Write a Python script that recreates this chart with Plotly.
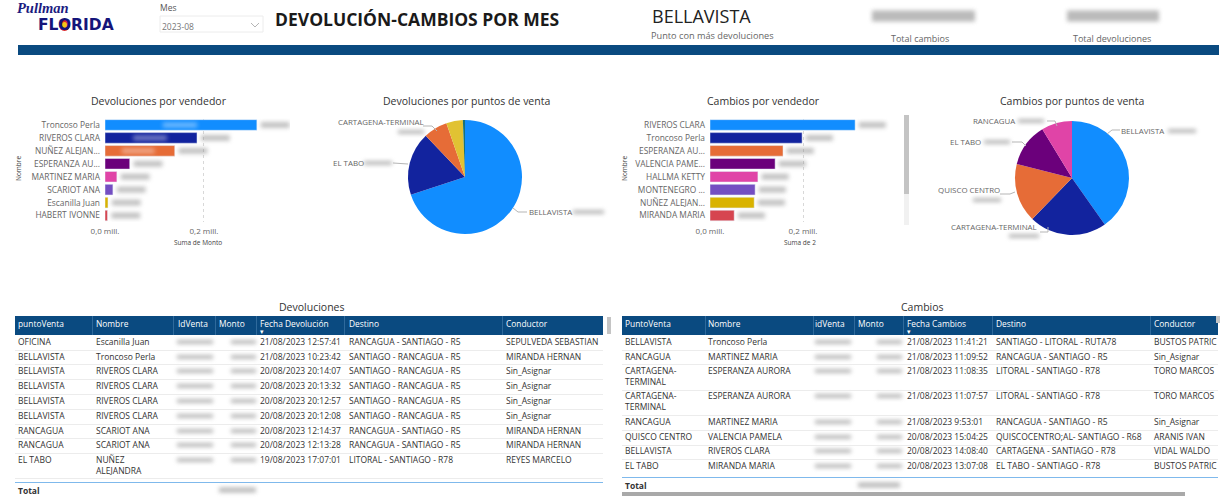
import plotly.graph_objects as go

W = 1231
H = 499
NAVY = '#0A4A80'
GREY = '#666666'
DARK = '#333333'
FONT = 'Open Sans'

bar_colors = ['#118DFF', '#12239E', '#E66C37', '#6B007B', '#E044A7', '#744EC2', '#D9B300', '#D64550']

# bars, millions
dev_names = ['Troncoso Perla', 'RIVEROS CLARA', 'NUÑEZ ALEJAN...', 'ESPERANZA AU...',
             'MARTINEZ MARIA', 'SCARIOT ANA', 'Escanilla Juan', 'HABERT IVONNE']
dev_values = [0.307, 0.186, 0.141, 0.05, 0.024, 0.016, 0.006, 0.005]
cam_names = ['RIVEROS CLARA', 'Troncoso Perla', 'ESPERANZA AU...', 'VALENCIA PAME...',
             'HALLMA KETTY', 'MONTENEGRO ...', 'NUÑEZ ALEJAN...', 'MIRANDA MARIA']
cam_values = [0.312, 0.198, 0.157, 0.14, 0.103, 0.097, 0.095, 0.052]

# pies
dev_pie_names = ['BELLAVISTA', 'EL TABO', 'CARTAGENA-TERMINAL', 'RANCAGUA', 'OFICINA']
dev_pie_values = [70, 18, 6.8, 4.7, 0.6]
dev_pie_colors = ['#118DFF', '#12239E', '#E66C37', '#E1C233', '#197278']
cam_pie_names = ['BELLAVISTA', 'CARTAGENA-TERMINAL', 'QUISCO CENTRO', 'EL TABO', 'RANCAGUA']
cam_pie_values = [40.2, 22, 16.7, 12.3, 8.7]
cam_pie_colors = ['#118DFF', '#12239E', '#E66C37', '#6B007B', '#E044A7']

# table devoluciones
t1_head = ['puntoVenta', 'Nombre', 'IdVenta', 'Monto', 'Fecha Devolución', 'Destino', 'Conductor']
t1_punto = ['OFICINA', 'BELLAVISTA', 'BELLAVISTA', 'BELLAVISTA', 'BELLAVISTA', 'BELLAVISTA',
            'RANCAGUA', 'RANCAGUA', 'EL TABO']
t1_nombre = ['Escanilla Juan', 'Troncoso Perla', 'RIVEROS CLARA', 'RIVEROS CLARA', 'RIVEROS CLARA',
             'RIVEROS CLARA', 'SCARIOT ANA', 'SCARIOT ANA', 'NUÑEZ<br>ALEJANDRA']
t1_fecha = ['21/08/2023 12:57:41', '21/08/2023 10:23:42', '20/08/2023 20:14:07', '20/08/2023 20:13:32',
            '20/08/2023 20:12:57', '20/08/2023 20:12:08', '20/08/2023 12:14:37', '20/08/2023 12:13:28',
            '19/08/2023 17:07:01']
t1_destino = ['RANCAGUA - SANTIAGO - R5', 'SANTIAGO - RANCAGUA - R5', 'SANTIAGO - RANCAGUA - R5',
              'SANTIAGO - RANCAGUA - R5', 'SANTIAGO - RANCAGUA - R5', 'SANTIAGO - RANCAGUA - R5',
              'RANCAGUA - SANTIAGO - R5', 'RANCAGUA - SANTIAGO - R5', 'LITORAL - SANTIAGO - R78']
t1_conductor = ['SEPULVEDA SEBASTIAN', 'MIRANDA HERNAN', 'Sin_Asignar', 'Sin_Asignar', 'Sin_Asignar',
                'Sin_Asignar', 'MIRANDA HERNAN', 'MIRANDA HERNAN', 'REYES MARCELO']

# table cambios
t2_head = ['PuntoVenta', 'Nombre', 'idVenta', 'Monto', 'Fecha Cambios', 'Destino', 'Conductor']
t2_punto = ['BELLAVISTA', 'RANCAGUA', 'CARTAGENA-<br>TERMINAL', 'CARTAGENA-<br>TERMINAL', 'RANCAGUA',
            'QUISCO CENTRO', 'BELLAVISTA', 'EL TABO']
t2_nombre = ['Troncoso Perla', 'MARTINEZ MARIA', 'ESPERANZA AURORA', 'ESPERANZA AURORA', 'MARTINEZ MARIA',
             'VALENCIA PAMELA', 'RIVEROS CLARA', 'MIRANDA MARIA']
t2_fecha = ['21/08/2023 11:41:21', '21/08/2023 11:09:52', '21/08/2023 11:08:35', '21/08/2023 11:07:57',
            '21/08/2023 9:53:01', '20/08/2023 15:04:25', '20/08/2023 14:08:40', '20/08/2023 13:07:08']
t2_destino = ['SANTIAGO - LITORAL - RUTA78', 'RANCAGUA - SANTIAGO - R5', 'LITORAL - SANTIAGO - R78',
              'LITORAL - SANTIAGO - R78', 'RANCAGUA - SANTIAGO - R5', 'QUISCOCENTRO;AL- SANTIAGO - R68',
              'CARTAGENA - SANTIAGO - R78', 'EL TABO - SANTIAGO - R78']
t2_conductor = ['BUSTOS PATRIC', 'Sin_Asignar', 'TORO MARCOS', 'TORO MARCOS', 'Sin_Asignar', 'ARANIS IVAN',
                'VIDAL WALDO', 'BUSTOS PATRIC']

# table geometry, page pixels
t1_x = [18, 96, 178, 219, 260, 349, 506]
t1_div = [92, 173, 215, 256, 344, 502]
t1_y = [343, 358, 372, 387, 402, 417, 432, 446, 461]
t1_lines = [350, 364, 379, 394, 409, 424, 438, 453, 478]
t2_x = [625, 708, 815, 858, 907, 996, 1154]
t2_div = [705, 813, 854, 903, 992, 1150]
t2_y = [343, 358, 372, 397, 423, 438, 452, 467]
t2_lines = [350, 364, 390, 415, 430, 445, 459]


def fx(p):
    return p / W


def fy(p):
    return 1 - p / H


shapes = []
notes = []


def rect(x0, y0, x1, y1, fill, line=None):
    shapes.append(dict(type='rect', xref='paper', yref='paper', x0=fx(x0), x1=fx(x1), y0=fy(y0), y1=fy(y1),
                       fillcolor=fill, line=dict(color=line or fill, width=1 if line else 0), layer='above'))


def text(x, y, s, size=8, color=GREY, anchor='left', family=FONT, angle=0, weight=None):
    notes.append(dict(x=fx(x), y=fy(y), xref='paper', yref='paper', text=s, showarrow=False,
                      xanchor=anchor, yanchor='middle', textangle=angle, borderpad=0, borderwidth=0,
                      font=dict(family=family, size=size, color=color, weight=weight)))


def smudge(x0, x1, yc, h=6):
    # censored numbers in the original are blurred
    shapes.append(dict(type='rect', xref='paper', yref='paper', x0=fx(x0), x1=fx(x1),
                       y0=fy(yc - h / 2), y1=fy(yc + h / 2),
                       fillcolor='#8c8c8c', opacity=0.6, line=dict(width=0), layer='above'))


def leader(points):
    path = 'M ' + ' L '.join(f'{fx(a):.5f} {fy(b):.5f}' for a, b in points)
    shapes.append(dict(type='path', xref='paper', yref='paper', path=path,
                       line=dict(color='#b5b5b5', width=1), layer='above'))


def add_column(fig, x, ys, values, color=DARK, size=8.5):
    # two line cells keep their first line on the row
    ys = [y + 5.5 if '<br>' in v else y for y, v in zip(ys, values)]
    fig.add_trace(go.Scatter(x=[x] * len(ys), y=ys, text=values, mode='text', textposition='middle right',
                             textfont=dict(family=FONT, size=size, color=color), xaxis='x3', yaxis='y3',
                             cliponaxis=False, hoverinfo='skip', showlegend=False))


fig = go.Figure()

# bars
fig.add_trace(go.Bar(y=dev_names, x=dev_values, orientation='h', marker_color=bar_colors,
                     xaxis='x', yaxis='y', showlegend=False))
fig.add_trace(go.Bar(y=cam_names, x=cam_values, orientation='h', marker_color=bar_colors,
                     xaxis='x2', yaxis='y2', showlegend=False))

# pies
fig.add_trace(go.Pie(labels=dev_pie_names, values=dev_pie_values, sort=False, direction='clockwise', rotation=0,
                     marker=dict(colors=dev_pie_colors), textinfo='none', showlegend=False,
                     domain=dict(x=[fx(408), fx(522)], y=[fy(234), fy(120)])))
fig.add_trace(go.Pie(labels=cam_pie_names, values=cam_pie_values, sort=False, direction='clockwise', rotation=0,
                     marker=dict(colors=cam_pie_colors), textinfo='none', showlegend=False,
                     domain=dict(x=[fx(1015), fx(1129)], y=[fy(235), fy(121)])))

# table bodies
for x, col in zip([t1_x[0], t1_x[1], t1_x[4], t1_x[5], t1_x[6]],
                  [t1_punto, t1_nombre, t1_fecha, t1_destino, t1_conductor]):
    add_column(fig, x, t1_y, col)
for x, col in zip([t2_x[0], t2_x[1], t2_x[4], t2_x[5], t2_x[6]],
                  [t2_punto, t2_nombre, t2_fecha, t2_destino, t2_conductor]):
    add_column(fig, x, t2_y, col)

# header band
rect(18, 45, 1219, 55, NAVY)

# logo
text(17, 8, '<i><b>Pullman</b></i>', size=14.5, color='#1B1B80', family='Liberation Serif')
text(38, 25, '<b>FLORIDA</b>', size=15.5, color='#14147A', family='DejaVu Sans')
rect(59, 19, 70, 31, 'white')
shapes.append(dict(type='circle', xref='paper', yref='paper', x0=fx(59), x1=fx(70), y0=fy(19), y1=fy(31),
                   fillcolor='#D8262C', line=dict(width=0), layer='above'))
shapes.append(dict(type='circle', xref='paper', yref='paper', x0=fx(62), x1=fx(67), y0=fy(22), y1=fy(28),
                   fillcolor='#F5C518', line=dict(width=0), layer='above'))

# slicer
text(160, 7, 'Mes', size=8.5, color='#555555')
rect(160, 16, 263, 32, 'white', '#ececec')
text(162, 26, '2023-08', size=8.5, color='#777777')
leader([(251, 23), (255, 27), (259, 23)])

# top texts
text(275, 19, 'DEVOLUCIÓN-CAMBIOS POR MES', size=17.5, color='#1a1a1a', weight=700)
text(701, 16, 'BELLAVISTA', size=18, color='#222222', anchor='center')
text(712, 36, 'Punto con más devoluciones', size=9.2, anchor='center')
text(920, 39, 'Total cambios', size=9, anchor='center')
text(1112, 39, 'Total devoluciones', size=9, anchor='center')
smudge(872, 975, 16, 11)
smudge(1067, 1159, 16, 11)

# chart titles
text(159, 101, 'Devoluciones por vendedor', size=10.5, color=DARK, anchor='center', weight=500)
text(466, 101, 'Devoluciones por puntos de venta', size=10.5, color=DARK, anchor='center', weight=500)
text(764, 101, 'Cambios por vendedor', size=10.5, color=DARK, anchor='center', weight=500)
text(1072, 101, 'Cambios por puntos de venta', size=10.5, color=DARK, anchor='center', weight=500)
text(18, 169, 'Nombre', size=6.5, color='#444444', anchor='center', angle=-90)
text(624, 169, 'Nombre', size=6.5, color='#444444', anchor='center', angle=-90)
text(198, 242, 'Suma de Monto', size=6.5, color='#444444', anchor='center')
text(800, 242, 'Suma de 2', size=6.5, color='#444444', anchor='center')

# blurred data labels beside the bars, placed from the values
for axis_x, axis_y, vals in [('x', 'y', dev_values), ('x2', 'y2', cam_values)]:
    for i, v in enumerate(vals):
        shapes.append(dict(type='rect', xref=axis_x, yref=axis_y, x0=v + 0.008, x1=v + 0.066, y0=i - 0.22, y1=i + 0.22,
                           fillcolor='#8c8c8c', opacity=0.55, line=dict(width=0), layer='above'))
# the same blur leaves pale patches on the long bars of the first chart
for i, (a, b) in enumerate([(0.117, 0.186), (0.057, 0.125), (0.034, 0.1)]):
    shapes.append(dict(type='rect', xref='x', yref='y', x0=a, x1=b, y0=i - 0.2, y1=i + 0.2,
                       fillcolor='#fefefe', opacity=0.4, line=dict(width=0), layer='above'))

# chart 3 scrollbar
rect(904, 115, 909, 225, '#f1f1f1')
rect(904, 115, 909, 194, '#c4c4c4')

# pie labels
text(338, 122, 'CARTAGENA-TERMINAL', size=7.9)
smudge(398, 424, 132, 4)
leader([(423, 126), (432, 126), (437, 131)])
text(333, 163, 'EL TABO', size=7.9)
smudge(364, 392, 163, 4)
leader([(393, 163), (408, 164)])
text(529, 212, 'BELLAVISTA', size=7.9)
smudge(573, 604, 212, 4)
leader([(513, 208), (518, 212), (527, 212)])

text(1121, 131, 'BELLAVISTA', size=7.9)
smudge(1168, 1196, 131, 4)
leader([(1107, 134), (1112, 130), (1120, 130)])
text(973, 121, 'RANCAGUA', size=7.9)
smudge(1018, 1044, 121, 4)
leader([(1047, 121), (1055, 121), (1057, 126)])
text(950, 142, 'EL TABO', size=7.9)
smudge(984, 1010, 142, 4)
leader([(1012, 142), (1022, 142), (1026, 146)])
text(938, 190, 'QUISCO CENTRO', size=7.9)
smudge(973, 1001, 200, 4)
leader([(1000, 194), (1010, 194), (1015, 192)])
text(951, 227, 'CARTAGENA-TERMINAL', size=7.9)
smudge(1009, 1039, 236, 4)
leader([(1040, 232), (1048, 232), (1048, 227)])

# table furniture
text(312, 307, 'Devoluciones', size=10.5, color=DARK, anchor='center')
text(922, 307, 'Cambios', size=10.5, color=DARK, anchor='center')

rect(15, 316, 603, 335, NAVY)
for x, name in zip(t1_x, t1_head):
    text(x, 323, name, size=8.4, color='white', weight=500)
for x in t1_div:
    rect(x, 316, x + 1, 335, '#2f6a9c')
for y in t1_y:
    smudge(177, 213, y - 1, 4)
    smudge(231, 256, y - 1, 4)
for y in t1_lines:
    rect(15, y, 603, y + 1, '#ececec')
rect(15, 482, 603, 483, '#7FB9EC')
text(18, 490, '<b>Total</b>', size=8.5, color=DARK)
smudge(219, 256, 490, 5)
rect(607, 317, 611, 334, '#c4c4c4')
text(260, 331, '▾', size=7, color='white')

rect(622, 316, 1218, 335, NAVY)
for x, name in zip(t2_x, t2_head):
    text(x, 323, name, size=8.4, color='white', weight=500)
for x in t2_div:
    rect(x, 316, x + 1, 335, '#2f6a9c')
for y in t2_y:
    smudge(815, 851, y - 1, 4)
    smudge(877, 902, y - 1, 4)
for y in t2_lines:
    rect(622, y, 1218, y + 1, '#ececec')
rect(622, 477, 1218, 478, '#7FB9EC')
text(625, 485, '<b>Total</b>', size=8.5, color=DARK)
smudge(858, 900, 485, 5)
rect(622, 492, 1185, 496, '#a9a9a9')
rect(1216, 316, 1220, 323, '#c4c4c4')
text(907, 331, '▾', size=7, color='white')


def bar_x(x0, x1, top, rng):
    return dict(domain=[fx(x0), fx(x1)], range=rng, tickvals=[0, 0.2], ticktext=['0,0 mill.', '0,2 mill.'],
                tickfont=dict(family=FONT, size=8, color=GREY), showgrid=True, gridcolor='#d8d8d8', griddash='dot',
                gridwidth=1, zeroline=False, ticks='', showline=False, fixedrange=True, anchor=top, automargin=False,
                ticklabelstandoff=3)


def bar_y(x_name):
    return dict(domain=[fy(222), fy(118.5)], autorange='reversed', tickfont=dict(family=FONT, size=8.4, color=GREY),
                ticks='', showgrid=False, zeroline=False, showline=False, anchor=x_name, automargin=False,
                ticklabelstandoff=4)


fig.update_layout(
    width=W, height=H, margin=dict(l=0, r=0, t=0, b=0), paper_bgcolor='white', plot_bgcolor='rgba(0,0,0,0)',
    bargap=0.18, showlegend=False,
    xaxis=bar_x(105, 290, 'y', [0, 0.374]),
    yaxis=bar_y('x'),
    xaxis2=bar_x(710, 890, 'y2', [0, 0.387]),
    yaxis2=bar_y('x2'),
    xaxis3=dict(domain=[0, 1], range=[0, W], visible=False, fixedrange=True, anchor='y3', automargin=False),
    yaxis3=dict(domain=[0, 1], range=[H, 0], visible=False, fixedrange=True, anchor='x3', automargin=False),
    shapes=shapes, annotations=notes,
)

# soften the censored patches like the screenshot
blur = """
document.body.style.margin = '0';
document.body.style.overflow = 'hidden';
document.querySelectorAll('.shapelayer path').forEach(function (p) {
    var f = p.style.fill;
    if (f === 'rgb(140, 140, 140)' || f === 'rgb(254, 254, 254)') { p.style.filter = 'blur(2px)'; }
});
"""
fig.write_html('out.html', config=dict(displayModeBar=False), post_script=blur)
